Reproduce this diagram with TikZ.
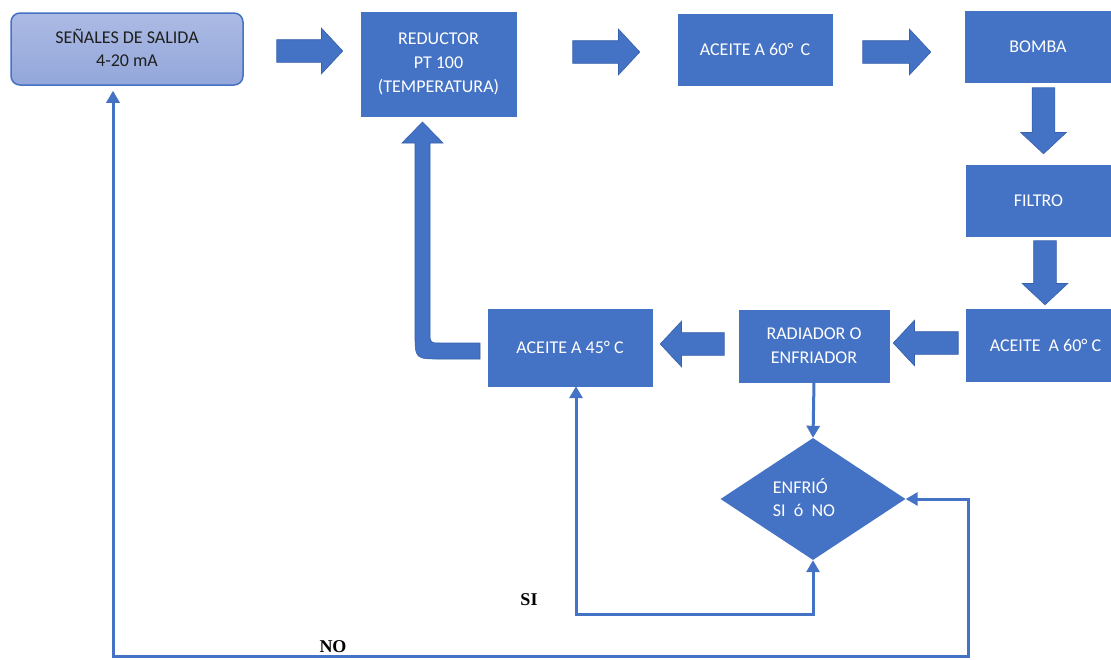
\documentclass[tikz,border=0pt]{standalone}
\usepackage{fontspec}
\setmainfont{Carlito}
\newfontfamily\tnr{Liberation Serif}
\usetikzlibrary{shapes.geometric,shapes.arrows,arrows.meta}
\definecolor{obl}{HTML}{4472C4}
\definecolor{obd}{HTML}{3660AC}
\definecolor{lbtop}{HTML}{ACBAE4}
\definecolor{lbbot}{HTML}{93A7DA}
\tikzset{
  box/.style={rectangle, fill=obl, draw=obl, text=white, inner sep=0pt, align=center,
    font=\fontsize{18}{24}\selectfont},
  barrow/.style={single arrow, fill=obl, draw=obd, line width=0.6pt, inner sep=0pt,
    single arrow head extend=11.5pt, single arrow tip angle=94},
  conn/.style={draw=obl, line width=3pt},
  tipa/.style={-{Triangle[length=12pt,width=13pt]}},
  lbl/.style={font=\tnr\bfseries\fontsize{18}{20}\selectfont, inner sep=0pt}
}
\newcommand{\hshaft}{\rule{0pt}{22pt}}
\newcommand{\vshaft}{\rule{22pt}{0pt}}
\begin{document}
\begin{tikzpicture}[x=1pt,y=-1pt]
\useasboundingbox (0,0) rectangle (1111,659);
% boxes
\node[rectangle, rounded corners=9pt, top color=lbtop, bottom color=lbbot, draw=obl, line width=1.5pt,
  minimum width=232pt, minimum height=72pt, align=center, text=black!88,
  font=\fontsize{18}{23}\selectfont] (sen) at (127,49) {\raisebox{2pt}{SEÑALES DE SALIDA}\\\raisebox{2pt}{4-20 mA}};
\node[box, minimum width=155pt, minimum height=104pt] (red) at (438.5,64) {REDUCTOR\\PT 100\\(TEMPERATURA)};
\node[box, minimum width=154pt, minimum height=71pt] (a60) at (755,49.5) {ACEITE A 60°\,\ C};
\node[box, minimum width=146pt, minimum height=71pt] (bom) at (1038,46.5) {BOMBA};
\node[box, minimum width=145pt, minimum height=71pt] (fil) at (1038.5,200.5) {FILTRO};
\node[box, minimum width=145pt, minimum height=72pt] (a60b) at (1038.5,345) {\hspace*{14pt}ACEITE\ \ A 60° C};
\node[box, minimum width=150pt, minimum height=72pt] (rad) at (814,346) {RADIADOR O\\ENFRIADOR};
\node[box, minimum width=164pt, minimum height=77pt] (a45) at (570,347.5) {ACEITE A 45° C};
\node[diamond, fill=obl, inner sep=0pt, minimum width=185pt, minimum height=122pt,
  label={[text=white, align=left, inner sep=0pt, xshift=-9pt, yshift=1pt, font=\fontsize{18}{23}\selectfont]center:ENFRIÓ\\SI\ \ ó\ \ NO}]
  (dia) at (813,499) {};
% block arrows
\node[barrow, minimum height=66pt] (ar1) at (304.5,51) {\hshaft};
\node[barrow, minimum height=67pt] (ar2) at (601,52) {\hshaft};
\node[barrow, minimum height=68pt] (ar3) at (891.5,52) {\hshaft};
\node[barrow, minimum height=66pt, shape border rotate=270] (dn1) at (1043.5,115.5) {\vshaft};
\node[barrow, minimum height=64pt, shape border rotate=270] (dn2) at (1045,267.5) {\vshaft};
\node[barrow, minimum height=65pt, shape border rotate=180] (lf1) at (931,343) {\hshaft};
\node[barrow, minimum height=64pt, shape border rotate=180] (lf2) at (697.5,344) {\hshaft};
% bent arrow from a45 back to reductor
\filldraw[fill=obl, draw=obd, line width=0.6pt]
  (480,343) -- (441,343) .. controls (430,343) .. (430,332) -- (430,143) -- (443,143)
  -- (422.5,122) -- (402,143) -- (415,143) -- (415,333)
  .. controls (415,359) .. (441,359) -- (480,359) -- cycle;
% thin connectors
\draw[conn, tipa] (rad.south) -- (dia.north);
\draw[conn, {Triangle[length=12pt,width=13pt]}-{Triangle[length=12pt,width=13pt]}]
  (dia.south) -- (dia.south |- 0,614) -| ([xshift=6pt]a45.south);
\coordinate (nocorner) at (968,656);
\draw[conn, {Triangle[length=12pt,width=13pt]}-{Triangle[length=12pt,width=13pt]}, shorten >=5pt]
  (dia.east) -| (nocorner) -| ([xshift=-14pt]sen.south);
% labels
\node[lbl] (si) at (529,600) {SI};
\node[lbl] (no) at (333,647) {NO};
\end{tikzpicture}
\end{document}
